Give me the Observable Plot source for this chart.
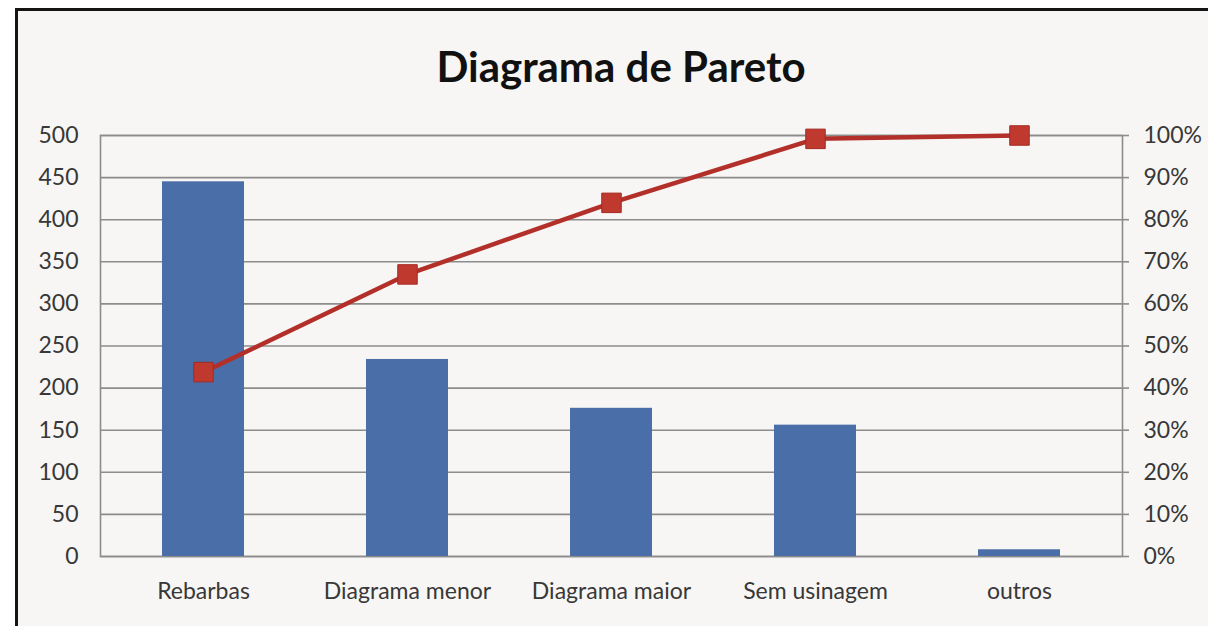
<!DOCTYPE html>
<html>
<head>
<meta charset="utf-8">
<script src="https://cdn.jsdelivr.net/npm/d3@7"></script>
<script src="https://cdn.jsdelivr.net/npm/@observablehq/plot@0.6"></script>
<style>
  html, body { margin: 0; padding: 0; background: #ffffff; }
  body { width: 1208px; height: 626px; position: relative; overflow: hidden; font-family: Lato, "Open Sans", sans-serif; }
  #frame { position: absolute; left: 15px; top: 8px; width: 1300px; height: 700px; border: 3px solid #141414; background: #f7f6f4; }
  #title { position: absolute; left: 0; width: 1242px; top: 41px; text-align: center; font-size: 42px; font-weight: 700; color: #111; }
  #chart { position: absolute; left: 0; top: 0; }
</style>
</head>
<body>
<div id="frame"></div>
<div id="title">Diagrama de Pareto</div>
<div id="chart"></div>
<script>
const categories = ["Rebarbas", "Diagrama menor", "Diagrama maior", "Sem usinagem", "outros"];
const counts = [445, 234, 176, 156, 8];
const cumulativePct = [43.8, 67, 84, 99.2, 100];
const leftTicks = [0, 50, 100, 150, 200, 250, 300, 350, 400, 450, 500];
const rightTickLabels = ["0%", "10%", "20%", "30%", "40%", "50%", "60%", "70%", "80%", "90%", "100%"];

const data = categories.map((c, i) => ({cat: c, count: counts[i], pct: cumulativePct[i]}));
const pctToY = p => p * 5; // 100% on the right axis = 500 on the left

const chart = Plot.plot({
  width: 1208,
  height: 626,
  marginLeft: 100,
  marginRight: 86,
  marginTop: 135,
  marginBottom: 70,
  style: {background: "transparent", fontFamily: "Lato, 'Open Sans', sans-serif"},
  x: {domain: categories, paddingInner: 0.6, paddingOuter: 0.3, label: null},
  y: {domain: [0, 500], label: null},
  marks: [
    Plot.ruleY(leftTicks, {stroke: "#8c8c8c", strokeWidth: 1.6}),
    Plot.frame({stroke: "#8c8c8c", strokeWidth: 1.6}),
    Plot.barY(data, {x: "cat", y: "count", fill: "#4a6ea8"}),
    Plot.axisY({anchor: "left", ticks: leftTicks, tickSize: 0, tickPadding: 22, fontSize: 23, fill: "#383838", label: null}),
    Plot.axisY({anchor: "right", ticks: leftTicks, tickSize: 6, tickPadding: 15, fontSize: 23, fill: "#383838", stroke: "#8c8c8c", strokeWidth: 1.6, tickFormat: d => rightTickLabels[leftTicks.indexOf(d)], label: null}),
    Plot.axisX({tickSize: 0, tickPadding: 26, fontSize: 23, fill: "#383838", label: null}),
    Plot.line(data, {x: "cat", y: d => pctToY(d.pct), stroke: "#b3302a", strokeWidth: 4.5}),
    Plot.dot(data, {x: "cat", y: d => pctToY(d.pct), symbol: "square", r: 11, fill: "#c0392f", stroke: "#a52a22", strokeWidth: 1})
  ]
});
document.getElementById("chart").appendChild(chart);
</script>
</body>
</html>
